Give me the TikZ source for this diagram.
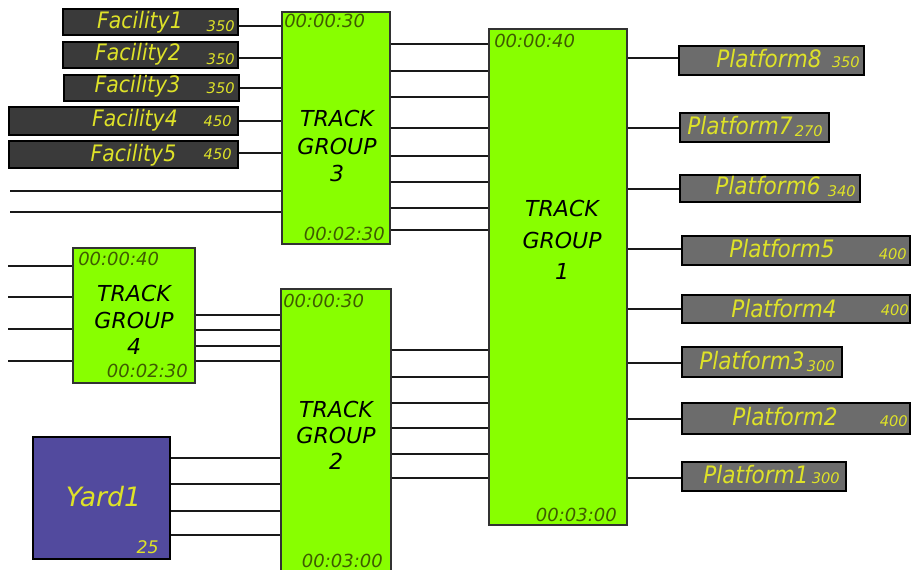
\documentclass[tikz,border=0pt]{standalone}
\usepackage{fontspec}
\setmainfont{DejaVu Sans}
\newfontfamily\narrowfont[FakeStretch=0.9]{DejaVu Sans}
\usetikzlibrary{fit}
\definecolor{tgreen}{RGB}{136,255,0}
\definecolor{facgrey}{RGB}{58,58,58}
\definecolor{platgrey}{RGB}{108,108,108}
\definecolor{tyellow}{RGB}{222,226,40}
\definecolor{yardblue}{RGB}{82,74,158}
\definecolor{stampcol}{RGB}{62,92,0}
\definecolor{tgborder}{RGB}{50,50,50}
\tikzset{
  facbox/.style={draw=black, line width=1.5pt, fill=facgrey, inner sep=0pt},
  platbox/.style={draw=black, line width=1.5pt, fill=platgrey, inner sep=0pt},
  tgbox/.style={draw=tgborder, line width=0.8pt, fill=tgreen, inner sep=0pt},
  yardbox/.style={draw=black, line width=1.5pt, fill=yardblue, inner sep=0pt},
  conn/.style={draw=black!90, line width=1.8pt},
  ftext/.style={text=tyellow, font=\narrowfont\fontsize{17}{20}\selectfont\itshape, inner sep=0pt, anchor=base},
  ptext/.style={text=tyellow, font=\narrowfont\fontsize{18}{21}\selectfont\itshape, inner sep=0pt, anchor=base},
  numtext/.style={text=tyellow, font=\fontsize{11}{13}\selectfont\itshape, inner sep=0pt, anchor=base east},
  stampw/.style={text=stampcol, font=\fontsize{13.5}{16}\selectfont\itshape, inner sep=0pt, anchor=base west},
  stampe/.style={text=stampcol, font=\fontsize{13.5}{16}\selectfont\itshape, inner sep=0pt, anchor=base east},
  tglabel/.style={text=black, font=\fontsize{16.5}{20.5}\selectfont\itshape, inner sep=0pt, align=center, anchor=center},
}
\begin{document}
\begin{tikzpicture}[x=0.75pt,y=-0.75pt]
\useasboundingbox (0,0) rectangle (912,570);

% ---------- boxes ----------
\node[facbox, fit={(63,9)(238,35)}] (f1) {};
\node[facbox, fit={(63,42)(238,68)}] (f2) {};
\node[facbox, fit={(64,75)(239,101)}] (f3) {};
\node[facbox, fit={(9,107)(238,135)}] (f4) {};
\node[facbox, fit={(9,141)(238,168)}] (f5) {};

\node[tgbox, fit={(282,12)(390,244)}] (tg3) {};
\node[tgbox, fit={(489,29)(627,525)}] (tg1) {};
\node[tgbox, fit={(73,248)(195,383)}] (tg4) {};
\node[tgbox, fit={(281,289)(391,585)}] (tg2) {};
\node[yardbox, fit={(33,437)(170,559)}] (yard) {};

\node[platbox, fit={(679,46)(864,75)}] (p8) {};
\node[platbox, fit={(680,113)(829,142)}] (p7) {};
\node[platbox, fit={(680,175)(860,202)}] (p6) {};
\node[platbox, fit={(682,236)(910,265)}] (p5) {};
\node[platbox, fit={(682,295)(910,323)}] (p4) {};
\node[platbox, fit={(682,347)(842,377)}] (p3) {};
\node[platbox, fit={(682,403)(910,434)}] (p2) {};
\node[platbox, fit={(682,462)(846,491)}] (p1) {};

% ---------- connectors ----------
\draw[conn] (f1.east |- 0,26) -- (tg3.west |- 0,26);
\draw[conn] (f2.east |- 0,58) -- (tg3.west |- 0,58);
\draw[conn] (f3.east |- 0,88) -- (tg3.west |- 0,88);
\draw[conn] (f4.east |- 0,121) -- (tg3.west |- 0,121);
\draw[conn] (f5.east |- 0,153) -- (tg3.west |- 0,153);
\coordinate (la) at (10,191);
\coordinate (lb) at (10,212);
\draw[conn] (la) -- (tg3.west |- la);
\draw[conn] (lb) -- (tg3.west |- lb);

\foreach \yy in {44,71,97,128,156,182,208,230}
  \draw[conn] (tg3.east |- 0,\yy) -- (tg1.west |- 0,\yy);

\draw[conn] (tg1.east |- 0,58) -- (p8.west |- 0,58);
\draw[conn] (tg1.east |- 0,128) -- (p7.west |- 0,128);
\draw[conn] (tg1.east |- 0,189) -- (p6.west |- 0,189);
\draw[conn] (tg1.east |- 0,249) -- (p5.west |- 0,249);
\draw[conn] (tg1.east |- 0,309) -- (p4.west |- 0,309);
\draw[conn] (tg1.east |- 0,363) -- (p3.west |- 0,363);
\draw[conn] (tg1.east |- 0,419) -- (p2.west |- 0,419);
\draw[conn] (tg1.east |- 0,478) -- (p1.west |- 0,478);

\coordinate (lc) at (8,266);
\coordinate (ld) at (8,297);
\coordinate (le) at (8,329);
\coordinate (lf) at (8,361);
\foreach \c in {lc,ld,le,lf}
  \draw[conn] (\c) -- (tg4.west |- \c);

\foreach \yy in {315,330,346,361}
  \draw[conn] (tg4.east |- 0,\yy) -- (tg2.west |- 0,\yy);

\foreach \yy in {458,484,511,535}
  \draw[conn] (yard.east |- 0,\yy) -- (tg2.west |- 0,\yy);

\foreach \yy in {350,377,403,428,454,478}
  \draw[conn] (tg2.east |- 0,\yy) -- (tg1.west |- 0,\yy);

% ---------- facility texts ----------
\node[ftext] (f1t) at (140,29) {Facility1};
\node[numtext] (f1n) at (235,32) {350};
\node[ftext] (f2t) at (138,61) {Facility2};
\node[numtext] (f2n) at (235,65) {350};
\node[ftext] (f3t) at (137.5,93) {Facility3};
\node[numtext] (f3n) at (235,94) {350};
\node[ftext] (f4t) at (135,127) {Facility4};
\node[numtext] (f4n) at (232,127) {450};
\node[ftext] (f5t) at (133.5,162) {Facility5};
\node[numtext] (f5n) at (232,160) {450};

% ---------- platform texts ----------
\node[ptext] (p8t) at (769,68) {Platform8};
\node[numtext] (p8n) at (860,68) {350};
\node[ptext] (p7t) at (740,135) {Platform7};
\node[numtext] (p7n) at (823,137) {270};
\node[ptext] (p6t) at (768,195) {Platform6};
\node[numtext] (p6n) at (856,196) {340};
\node[ptext] (p5t) at (782,257) {Platform5};
\node[numtext] (p5n) at (907,259) {400};
\node[ptext] (p4t) at (784,317) {Platform4};
\node[numtext] (p4n) at (909,315) {400};
\node[ptext] (p3t) at (752,369) {Platform3};
\node[numtext] (p3n) at (835,371) {300};
\node[ptext] (p2t) at (785,425) {Platform2};
\node[numtext] (p2n) at (908,426) {400};
\node[ptext] (p1t) at (756,483) {Platform1};
\node[numtext] (p1n) at (840,483) {300};

% ---------- track group texts ----------
\node[stampw] (tg3a) at (284,28) {00:00:30};
\node[stampe] (tg3b) at (385,240) {00:02:30};
\node[tglabel] (tg3l) at (337,146) {TRACK\\GROUP\\3};

\node[stampw] (tg1a) at (494,48) {00:00:40};
\node[stampe] (tg1b) at (617,521) {00:03:00};
\node[tglabel, font=\fontsize{16.5}{23.6}\selectfont\itshape] (tg1l) at (562,240) {TRACK\\GROUP\\1};

\node[stampw] (tg4a) at (78,265) {00:00:40};
\node[stampe] (tg4b) at (188,377) {00:02:30};
\node[tglabel, font=\fontsize{16.5}{19.9}\selectfont\itshape] (tg4l) at (134,320) {TRACK\\GROUP\\4};

\node[stampw] (tg2a) at (283,307) {00:00:30};
\node[stampe] (tg2b) at (383,567) {00:03:00};
\node[tglabel, font=\fontsize{16.5}{19.5}\selectfont\itshape] (tg2l) at (336,435) {TRACK\\GROUP\\2};

% ---------- yard ----------
\node[text=tyellow, font=\fontsize{20}{24}\selectfont\itshape, inner sep=0pt, anchor=base] (yardt) at (103.5,506) {Yard1};
\node[text=tyellow, font=\fontsize{13}{16}\selectfont\itshape, inner sep=0pt, anchor=base east] (yardn) at (159,553) {25};
\end{tikzpicture}
\end{document}
